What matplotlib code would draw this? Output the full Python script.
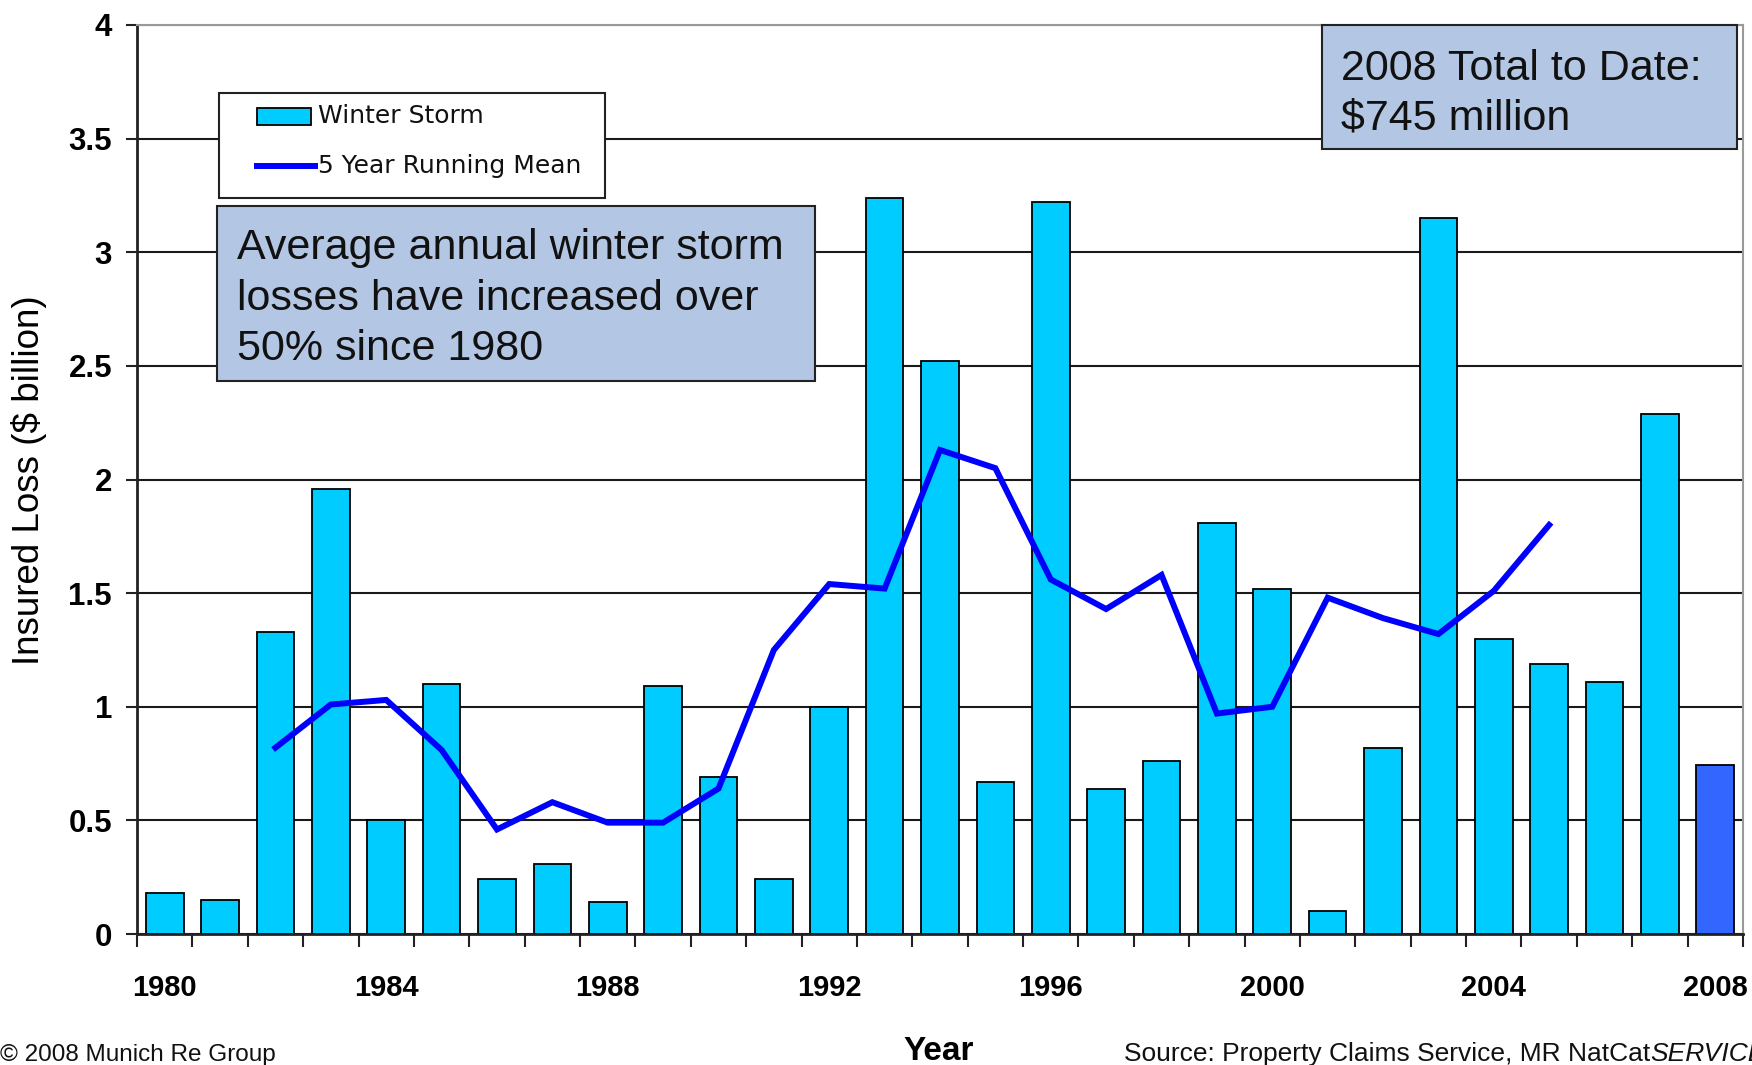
import matplotlib.pyplot as plt
from matplotlib.patches import Rectangle
from matplotlib.lines import Line2D
from matplotlib.text import Annotation
from matplotlib.ticker import FixedLocator, NullFormatter
import numpy as np

plt.rcParams['font.family'] = ['Liberation Sans', 'DejaVu Sans']

# insured winter storm losses, $ billion
years = list(range(1980, 2009))
losses = [0.18, 0.15, 1.33, 1.96, 0.50, 1.10, 0.24, 0.31, 0.14, 1.09,
          0.69, 0.24, 1.00, 3.24, 2.52, 0.67, 3.22, 0.64, 0.76, 1.81,
          1.52, 0.10, 0.82, 3.15, 1.30, 1.19, 1.11, 2.29, 0.745]

# 5 year running mean, centred, 1982-2005
mean_years = list(range(1982, 2006))
running_mean = [0.82, 1.01, 1.03, 0.81, 0.46, 0.58, 0.49, 0.49, 0.64, 1.25,
                1.54, 1.52, 2.13, 2.05, 1.56, 1.43, 1.58, 0.97, 1.00, 1.48,
                1.39, 1.32, 1.51, 1.80]

label_years = [1980, 1984, 1988, 1992, 1996, 2000, 2004, 2008]

BAR = '#00CCFF'
BAR_LATEST = '#3366FF'
LINE = '#0000FF'
BOX = '#B3C6E3'

W, H = 1752, 1065


def fx(px):
    return px / W


def fy(py):
    return 1 - py / H


fig = plt.figure(figsize=(W / 100, H / 100), dpi=100)
ax = fig.add_axes([fx(137), fy(934), fx(1743) - fx(137), fy(25) - fy(934)])

x = np.arange(len(years))
colors = [BAR] * (len(years) - 1) + [BAR_LATEST]
ax.bar(x, losses, width=0.68, color=colors, edgecolor='black', linewidth=1.3, zorder=2)

mx = np.array(mean_years) - years[0]
ax.plot(mx, running_mean, color=LINE, lw=4.3, solid_joinstyle='miter', zorder=3)

ax.set_xlim(-0.5, len(years) - 0.5)
ax.set_ylim(0, 4)
ax.set_yticks(np.arange(0, 4.01, 0.5))
ax.set_yticklabels(['0', '0.5', '1', '1.5', '2', '2.5', '3', '3.5', '4'])
ax.yaxis.grid(True, color='#1a1a1a', lw=1.5)
ax.set_axisbelow(True)

# ticks between categories, labels under every fourth bar
ax.xaxis.set_major_locator(FixedLocator(np.arange(-0.5, len(years), 1.0)))
ax.xaxis.set_major_formatter(NullFormatter())
ax.xaxis.set_minor_locator(FixedLocator([y - years[0] for y in label_years]))
ax.set_xticklabels([str(y) for y in label_years], minor=True)
ax.tick_params(axis='x', which='major', direction='out', length=9, width=1.5, color='#222222')
ax.tick_params(axis='x', which='minor', length=0, pad=29)
ax.tick_params(axis='y', direction='out', length=8, width=1.5, color='#222222', pad=10)
for lab in ax.get_xticklabels(minor=True):
    lab.set_fontweight('bold')
    lab.set_fontsize(21)
for lab in ax.get_yticklabels():
    lab.set_fontweight('bold')
    lab.set_fontsize(22.5)

for side in ['left', 'bottom']:
    ax.spines[side].set_color('#222222')
    ax.spines[side].set_linewidth(2)
for side in ['top', 'right']:
    ax.spines[side].set_color('#999999')
    ax.spines[side].set_linewidth(1.5)

fig.text(fx(29), fy(480), 'Insured Loss ($ billion)', rotation=90, ha='center', va='center',
         fontsize=26.5)
fig.text(fx(939), fy(1060), 'Year', ha='center', va='baseline', fontsize=24, fontweight='bold')

# legend box
fig.add_artist(Rectangle((fx(219), fy(198)), fx(605) - fx(219), fy(93) - fy(198),
                         transform=fig.transFigure, facecolor='white', edgecolor='#222222',
                         lw=1.5, zorder=5))
fig.add_artist(Rectangle((fx(257), fy(125)), fx(311) - fx(257), fy(108) - fy(125),
                         transform=fig.transFigure, facecolor=BAR, edgecolor='black',
                         lw=1.3, zorder=6))
fig.add_artist(Line2D([fx(257), fx(315)], [fy(166), fy(166)], transform=fig.transFigure,
                      color=LINE, lw=4.3, zorder=6))
fig.text(fx(318), fy(116), 'Winter Storm', ha='left', va='center', fontsize=18,
         family='DejaVu Sans', color='#111111', zorder=7)
fig.text(fx(318), fy(166), '5 Year Running Mean', ha='left', va='center', fontsize=18,
         family='DejaVu Sans', color='#111111', zorder=7)


def note(x0, y0, x1, y1, tx, baselines, lines):
    fig.add_artist(Rectangle((fx(x0), fy(y1)), fx(x1) - fx(x0), fy(y0) - fy(y1),
                             transform=fig.transFigure, facecolor=BOX, edgecolor='#222222',
                             lw=1.5, zorder=5))
    for b, s in zip(baselines, lines):
        fig.text(fx(tx), fy(b), s, ha='left', va='baseline', fontsize=31,
                 color='#111111', zorder=7)


note(1322, 25, 1737, 149, 1341, [80, 130], ['2008 Total to Date:', '$745 million'])
note(217, 206, 815, 381, 237, [259, 310, 360],
     ['Average annual winter storm', 'losses have increased over', '50% since 1980'])

# footer
fig.text(0.0, fy(1061), '\u00a9 2008 Munich Re Group', ha='left', va='baseline',
         fontsize=17.5, color='#111111')
src = fig.text(fx(1124), fy(1061), 'Source: Property Claims Service, MR NatCat', ha='left',
               va='baseline', fontsize=19, color='#111111')
fig.add_artist(Annotation('SERVICE', xy=(1, 0), xycoords=src, ha='left', va='bottom',
                          fontsize=19, style='italic', color='#111111'))

fig.savefig('out.png', dpi=100, facecolor='white')
